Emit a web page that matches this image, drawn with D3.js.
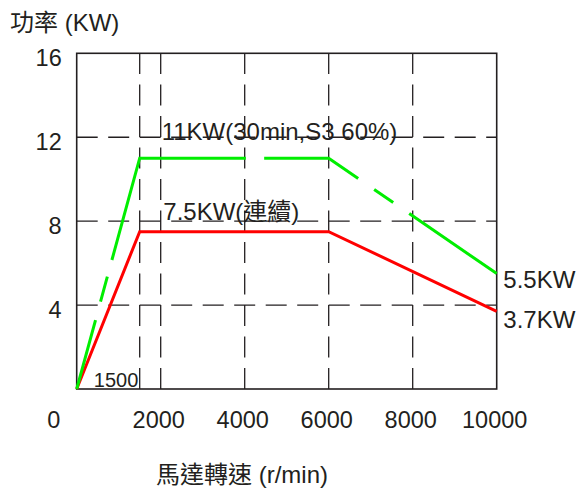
<!DOCTYPE html>
<html>
<head>
<meta charset="utf-8">
<script src="https://cdn.jsdelivr.net/npm/d3@7"></script>
<style>
  body { margin: 0; background: #fff; }
  svg text { font-family: "Liberation Sans", Arial, "Noto Sans CJK TC", sans-serif; fill: #231f20; }
</style>
</head>
<body>
<svg id="chart" width="578" height="489"></svg>
<script>
// speed (r/min) vs power (kW)
const speedStops = [0, 1500, 6000, 10000];
const peakPower = [0, 11, 11, 5.5];     // 30min, S3 60%
const contPower = [0, 7.5, 7.5, 3.7];   // continuous
const xTicks = [2000, 4000, 6000, 8000, 10000];
const yTicks = [4, 8, 12, 16];
const xGrid = [1500, 2000, 4000, 6000, 8000];
const yGrid = [4, 8, 12];

const ink = "#231f20";
const svg = d3.select("svg#chart");

const x = d3.scaleLinear().domain([0, 10000]).range([76.7, 496.7]);
const y = d3.scaleLinear().domain([0, 16]).range([389, 53.3]);

// dashed grid, pattern runs from bottom-left
const gGrid = svg.append("g")
                 .attr("stroke", ink)
                 .attr("stroke-width", 1.3)
                 .attr("stroke-dasharray", "21,10.5");

gGrid.selectAll(".vgrid")
     .data(xGrid)
     .enter().append("line")
             .attr("class", "vgrid")
             .attr("x1", d => x(d)).attr("x2", d => x(d))
             .attr("y1", y(0)).attr("y2", y(16));

gGrid.selectAll(".hgrid")
     .data(yGrid)
     .enter().append("line")
             .attr("class", "hgrid")
             .attr("x1", x(0)).attr("x2", x(10000))
             .attr("y1", d => y(d)).attr("y2", d => y(d));

// frame
svg.append("rect")
   .attr("x", x(0)).attr("y", y(16))
   .attr("width", x(10000) - x(0))
   .attr("height", y(0) - y(16))
   .attr("fill", "none")
   .attr("stroke", ink)
   .attr("stroke-width", 1.6);

const line = d3.line()
               .x(d => x(d[0]))
               .y(d => y(d[1]));

svg.append("path")
   .datum(d3.zip(speedStops, contPower))
   .attr("d", line)
   .attr("fill", "none")
   .attr("stroke", "#ff0000")
   .attr("stroke-width", 3);

svg.append("path")
   .datum(d3.zip(speedStops, peakPower))
   .attr("d", line)
   .attr("fill", "none")
   .attr("stroke", "#00ee00")
   .attr("stroke-width", 3)
   .attr("stroke-dasharray", "71.5,19,25.9,17.3,211.7,18.3,100.3,19.4,23.1,19.4,400");

// axes (labels only)
const xAxis = svg.append("g")
                 .attr("transform", `translate(0, ${y(0)})`)
                 .call(d3.axisBottom(x).tickValues(xTicks).tickFormat(d3.format("d"))
                                       .tickSize(0).tickPadding(22.7));
xAxis.select(".domain").remove();
xAxis.selectAll("text")
     .attr("dx", -2.5)
     .style("font-size", "23.5px")
     .attr("fill", ink);
xAxis.attr("font-family", null).attr("font-size", null);

const yAxis = svg.append("g")
                 .attr("transform", `translate(${x(0)}, 0)`)
                 .call(d3.axisLeft(y).tickValues(yTicks).tickFormat(d3.format("d"))
                                     .tickSize(0).tickPadding(15));
yAxis.select(".domain").remove();
yAxis.selectAll("text")
     .attr("y", 5)
     .style("font-size", "23.5px")
     .attr("fill", ink);
yAxis.attr("font-family", null).attr("font-size", null);

svg.append("text")
   .attr("x", x(0) - 23).attr("y", 428)
   .attr("text-anchor", "middle")
   .style("font-size", "23.5px")
   .text("0");

svg.append("text")
   .attr("x", x(1500) - 1.4).attr("y", 387)
   .attr("text-anchor", "end")
   .style("font-size", "20px")
   .text("1500");

// titles
svg.append("text")
   .attr("x", 10).attr("y", 31)
   .style("font-size", "24px")
   .text("功率 (KW)");

svg.append("text")
   .attr("x", 156).attr("y", 483)
   .style("font-size", "24px")
   .text("馬達轉速 (r/min)");

// curve labels
svg.append("text")
   .attr("x", x(2000) + 1).attr("y", y(12) + 2.3)
   .style("font-size", "24px")
   .text("11KW(30min,S3 60%)");

svg.append("text")
   .attr("x", x(2000) + 2.6).attr("y", y(8) - 1)
   .style("font-size", "24px")
   .text("7.5KW(連續)");

svg.append("text")
   .attr("x", x(10000) + 6.6).attr("y", y(peakPower[3]) + 14)
   .style("font-size", "24px")
   .text("5.5KW");

svg.append("text")
   .attr("x", x(10000) + 6.6).attr("y", y(contPower[3]) + 17)
   .style("font-size", "24px")
   .text("3.7KW");
</script>
</body>
</html>
